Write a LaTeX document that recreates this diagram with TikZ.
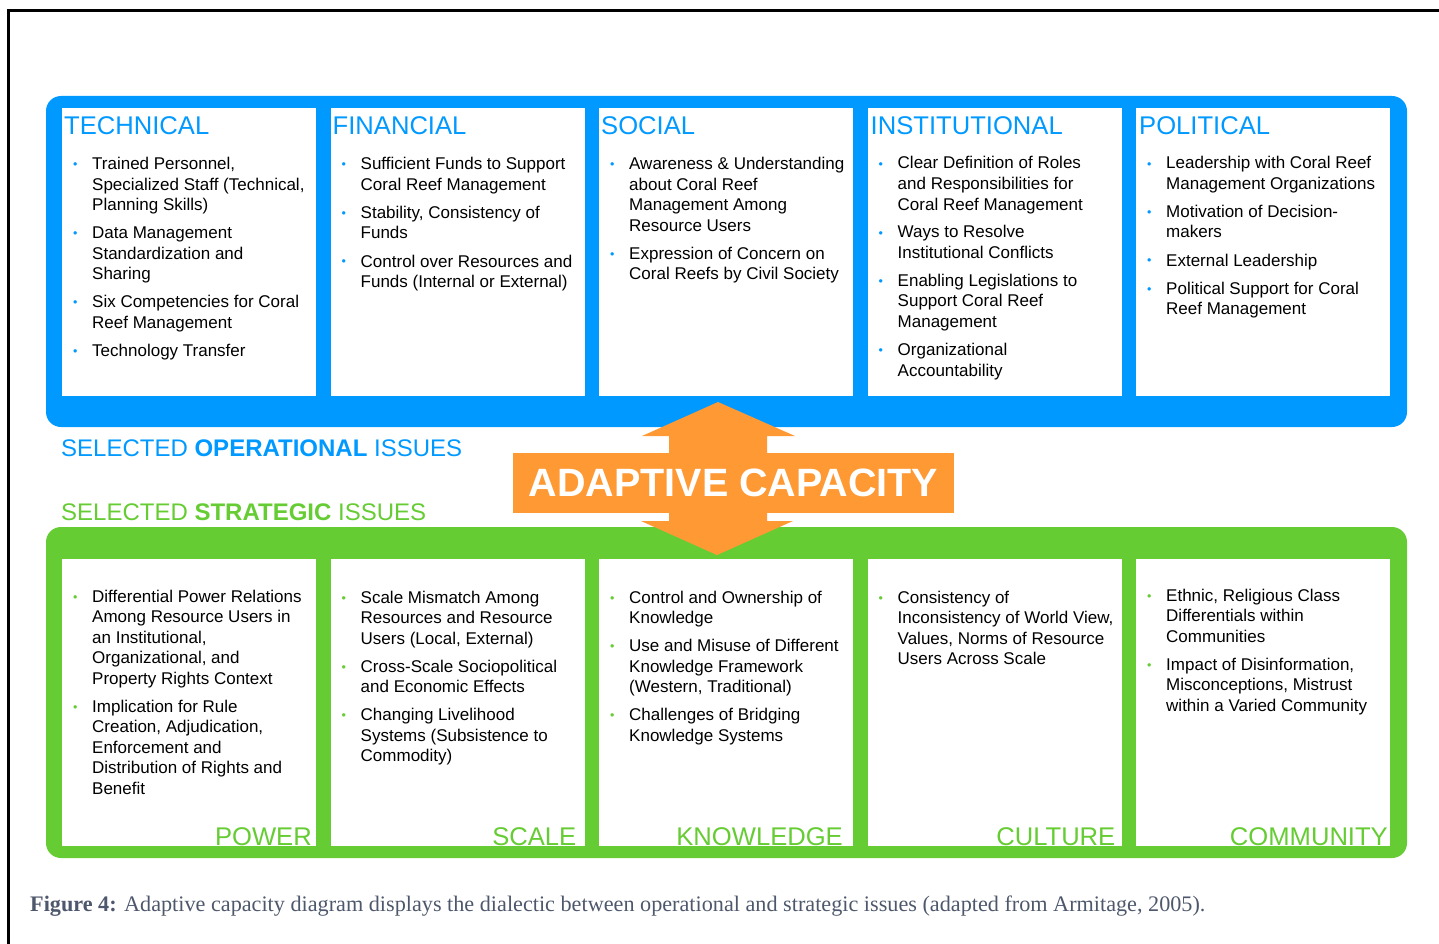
\documentclass[tikz,border=0pt]{standalone}
\usepackage{fontspec}
\setmainfont{Liberation Sans}
\newfontfamily\capfont{Liberation Serif}
\usetikzlibrary{positioning}

\definecolor{opblue}{RGB}{0,153,255}
\definecolor{stgreen}{RGB}{102,204,51}
\definecolor{acorange}{RGB}{255,153,51}
\definecolor{capgray}{RGB}{78,88,108}

\newcommand\opb{\textcolor{opblue}{\raisebox{1pt}{\fontsize{12.5}{12}\selectfont\textbullet}}}
\newcommand\stb{\textcolor{stgreen}{\raisebox{1pt}{\fontsize{12.5}{12}\selectfont\textbullet}}}

\begin{document}
\begin{tikzpicture}[x=1pt, y=-1pt,
        node distance = 14.5pt,
        band/.style = {rectangle, rounded corners=15pt, fill=#1, inner sep=0pt,
                    minimum width=1361pt, minimum height=331pt},
        card/.style = {rectangle, fill=white, inner sep=0pt, outer sep=0pt,
                    minimum width=254pt, minimum height=#1},
        cattitle/.style = {anchor=base west, inner sep=0pt, text=opblue,
                    font=\fontsize{25.6}{28}\selectfont},
        catlabel/.style = {anchor=base east, inner sep=0pt, text=stgreen,
                    font=\fontsize{25.6}{28}\selectfont},
        bullets/.style = {anchor=base west, inner sep=0pt,
                    font=\fontsize{17}{20.5}\selectfont},
        issues/.style = {anchor=base west, inner sep=0pt, text=#1,
                    font=\fontsize{24}{28}\selectfont}
                    ]
        \useasboundingbox (0,0) rectangle (1439,944);
        \clip (0,0) rectangle (1439,944);
        \draw[line width=3pt] (1460,10.7) -- (8.3,10.7) -- (8.3,970);
        % bands
        \node (opband) [band=opblue] at (726.5,261.5) {};
        \node (stband) [band=stgreen] at (726.5,692.5) {};
        % operational cards
        \node (tech) [card=288pt, anchor=north west] at (62,108) {};
        \node (fin) [card=288pt, right=of tech] {};
        \node (soc) [card=288pt, right=of fin] {};
        \node (inst) [card=288pt, right=of soc] {};
        \node (pol) [card=288pt, right=of inst] {};
        % strategic cards
        \node (power) [card=287pt, anchor=north west] at (62,559) {};
        \node (scale) [card=287pt, right=of power] {};
        \node (know) [card=287pt, right=of scale] {};
        \node (cult) [card=287pt, right=of know] {};
        \node (comm) [card=287pt, right=of cult] {};
        %
        \node (techtitle) [cattitle] at ([shift={(2pt,-27pt)}]tech.north west) {TECHNICAL};
        \node (fintitle) [cattitle] at ([shift={(2pt,-27pt)}]fin.north west) {FINANCIAL};
        \node (soctitle) [cattitle] at ([shift={(2pt,-27pt)}]soc.north west) {SOCIAL};
        \node (insttitle) [cattitle] at ([shift={(3pt,-27pt)}]inst.north west) {INSTITUTIONAL};
        \node (poltitle) [cattitle] at ([shift={(3pt,-27pt)}]pol.north west) {POLITICAL};
        %
        \node (techlist) [bullets] at ([shift={(11pt,-62pt)}]tech.north west) {%
            \begin{tabular}[t]{@{}p{19pt}@{}l@{}}
            \opb & Trained Personnel,\\
                 & Specialized Staff (Technical,\\
                 & Planning Skills)\\[7.5pt]
            \opb & Data Management\\
                 & Standardization and\\
                 & Sharing\\[7.5pt]
            \opb & Six Competencies for Coral\\
                 & Reef Management\\[7.5pt]
            \opb & Technology Transfer
            \end{tabular}};
        \node (finlist) [bullets] at ([shift={(11pt,-62pt)}]fin.north west) {%
            \begin{tabular}[t]{@{}p{19pt}@{}l@{}}
            \opb & Sufficient Funds to Support\\
                 & Coral Reef Management\\[7.5pt]
            \opb & Stability, Consistency of\\
                 & Funds\\[7.5pt]
            \opb & Control over Resources and\\
                 & Funds (Internal or External)
            \end{tabular}};
        \node (soclist) [bullets] at ([shift={(11pt,-62pt)}]soc.north west) {%
            \begin{tabular}[t]{@{}p{19pt}@{}l@{}}
            \opb & Awareness \& Understanding\\
                 & about Coral Reef\\
                 & Management Among\\
                 & Resource Users\\[7.5pt]
            \opb & Expression of Concern on\\
                 & Coral Reefs by Civil Society
            \end{tabular}};
        \node (instlist) [bullets] at ([shift={(11pt,-61pt)}]inst.north west) {%
            \begin{tabular}[t]{@{}p{19pt}@{}l@{}}
            \opb & Clear Definition of Roles\\
                 & and Responsibilities for\\
                 & Coral Reef Management\\[7.5pt]
            \opb & Ways to Resolve\\
                 & Institutional Conflicts\\[7.5pt]
            \opb & Enabling Legislations to\\
                 & Support Coral Reef\\
                 & Management\\[7.5pt]
            \opb & Organizational\\
                 & Accountability
            \end{tabular}};
        \node (pollist) [bullets] at ([shift={(11pt,-61pt)}]pol.north west) {%
            \begin{tabular}[t]{@{}p{19pt}@{}l@{}}
            \opb & Leadership with Coral Reef\\
                 & Management Organizations\\[7.5pt]
            \opb & Motivation of Decision-\\
                 & makers\\[7.5pt]
            \opb & External Leadership\\[7.5pt]
            \opb & Political Support for Coral\\
                 & Reef Management
            \end{tabular}};
        %
        \node (powerlist) [bullets] at ([shift={(11pt,-43pt)}]power.north west) {%
            \begin{tabular}[t]{@{}p{19pt}@{}l@{}}
            \stb & Differential Power Relations\\
                 & Among Resource Users in\\
                 & an Institutional,\\
                 & Organizational, and\\
                 & Property Rights Context\\[7.5pt]
            \stb & Implication for Rule\\
                 & Creation, Adjudication,\\
                 & Enforcement and\\
                 & Distribution of Rights and\\
                 & Benefit
            \end{tabular}};
        \node (scalelist) [bullets] at ([shift={(11pt,-44pt)}]scale.north west) {%
            \begin{tabular}[t]{@{}p{19pt}@{}l@{}}
            \stb & Scale Mismatch Among\\
                 & Resources and Resource\\
                 & Users (Local, External)\\[7.5pt]
            \stb & Cross-Scale Sociopolitical\\
                 & and Economic Effects\\[7.5pt]
            \stb & Changing Livelihood\\
                 & Systems (Subsistence to\\
                 & Commodity)
            \end{tabular}};
        \node (knowlist) [bullets] at ([shift={(11pt,-44pt)}]know.north west) {%
            \begin{tabular}[t]{@{}p{19pt}@{}l@{}}
            \stb & Control and Ownership of\\
                 & Knowledge\\[7.5pt]
            \stb & Use and Misuse of Different\\
                 & Knowledge Framework\\
                 & (Western, Traditional)\\[7.5pt]
            \stb & Challenges of Bridging\\
                 & Knowledge Systems
            \end{tabular}};
        \node (cultlist) [bullets] at ([shift={(11pt,-44pt)}]cult.north west) {%
            \begin{tabular}[t]{@{}p{19pt}@{}l@{}}
            \stb & Consistency of\\
                 & Inconsistency of World View,\\
                 & Values, Norms of Resource\\
                 & Users Across Scale
            \end{tabular}};
        \node (commlist) [bullets] at ([shift={(11pt,-42pt)}]comm.north west) {%
            \begin{tabular}[t]{@{}p{19pt}@{}l@{}}
            \stb & Ethnic, Religious Class\\
                 & Differentials within\\
                 & Communities\\[7.5pt]
            \stb & Impact of Disinformation,\\
                 & Misconceptions, Mistrust\\
                 & within a Varied Community
            \end{tabular}};
        %
        \node (powerlabel) [catlabel] at ([shift={(-4pt,1pt)}]power.south east) {POWER};
        \node (scalelabel) [catlabel] at ([shift={(-8pt,1pt)}]scale.south east) {SCALE};
        \node (knowlabel) [catlabel] at ([shift={(-10pt,1pt)}]know.south east) {KNOWLEDGE};
        \node (cultlabel) [catlabel] at ([shift={(-6pt,1pt)}]cult.south east) {CULTURE};
        \node (commlabel) [catlabel] at ([shift={(-2pt,1pt)}]comm.south east) {COMMUNITY};
        %
        \node (opissues) [issues=opblue] at (61,456) {SELECTED \textbf{OPERATIONAL} ISSUES};
        \node (stissues) [issues=stgreen] at (61,520) {SELECTED \textbf{STRATEGIC} ISSUES};
        % double arrow and centre box
        \fill[acorange] (718,402) -- (795,436) -- (767,436) -- (767,521) -- (793,521)
            -- (717,555) -- (641,521) -- (669,521) -- (669,436) -- (642,436) -- cycle;
        \node (adapt) [rectangle, fill=acorange, inner sep=0pt, minimum width=441pt,
            minimum height=60pt, text=white, font=\bfseries\fontsize{39.5}{44}\selectfont]
            at (733.5,483) {ADAPTIVE CAPACITY};
        %
        \node (caption) [anchor=base west, inner sep=0pt, text=capgray,
            font=\capfont\fontsize{22.2}{26}\selectfont] at (30,911)
            {\textbf{Figure 4:} Adaptive capacity diagram displays the dialectic between operational and strategic issues (adapted from Armitage, 2005).};
\end{tikzpicture}
\end{document}
